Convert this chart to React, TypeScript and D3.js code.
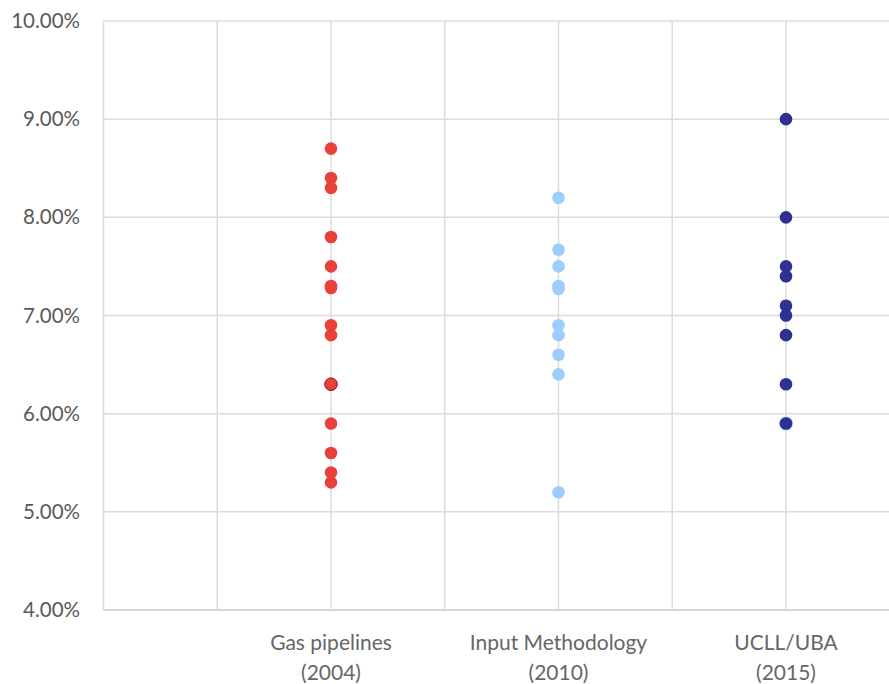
import React from "react";
import * as d3 from "d3";

const categories = ["Gas pipelines\n(2004)", "Input Methodology\n(2010)", "UCLL/UBA\n(2015)"];
const categoryX = [2, 4, 6];
const gasPipelines = [8.7, 8.4, 8.3, 7.8, 7.5, 7.3, 7.28, 6.9, 6.8, 6.3, 5.9, 5.6, 5.4, 5.3];
const inputMethodology = [8.2, 7.67, 7.5, 7.3, 7.27, 6.9, 6.8, 6.6, 6.4, 5.2];
const ucllUba = [9.0, 8.0, 7.5, 7.4, 7.1, 7.0, 6.8, 6.3, 5.9];
const yTicks = [4, 5, 6, 7, 8, 9, 10];
const xGrid = [0, 1, 2, 3, 4, 5, 6, 7];

const W = 889;
const H = 684;

export default function App() {
  const x = d3.scaleLinear().domain([0, 7]).range([103.5, 899.75]);
  const y = d3.scaleLinear().domain([4, 10]).range([610, 21]);
  const font = "Lato, 'Open Sans', sans-serif";
  const series = [
    { values: gasPipelines, cx: categoryX[0], fill: "#E8413A" },
    { values: inputMethodology, cx: categoryX[1], fill: "#9DCDFD" },
    { values: ucllUba, cx: categoryX[2], fill: "#2E3192" },
  ];
  return (
    <svg width={W} height={H} style={{ position: "absolute", left: 0, top: 0, background: "#fff" }}>
      {yTicks.map((t) => (
        <line key={"h" + t} x1={x(0)} x2={W} y1={y(t)} y2={y(t)} stroke={t === 4 ? "#c8c8c8" : "#dcdcdc"} strokeWidth={1.5} />
      ))}
      {xGrid.map((g) => (
        <line key={"v" + g} x1={x(g)} x2={x(g)} y1={y(10)} y2={y(4)} stroke="#dcdcdc" strokeWidth={1.5} />
      ))}
      {yTicks.map((t) => (
        <text key={"yl" + t} x={80} y={y(t) + 7} textAnchor="end" fontFamily={font} fontSize={20.5} fill="#595959">
          {t.toFixed(2) + "%"}
        </text>
      ))}
      {categories.map((c, i) => (
        <text key={"c" + i} x={x(categoryX[i])} textAnchor="middle" fontFamily={font} fontSize={21} fill="#666666">
          {c.split("\n").map((line, j) => (
            <tspan key={j} x={x(categoryX[i])} y={650 + j * 30}>
              {line}
            </tspan>
          ))}
        </text>
      ))}
      {/* light halo under UCLL 5.9 */}
      <circle cx={x(6)} cy={y(5.9)} r={7} fill="#9DCDFD" />
      {series.map((s, si) =>
        s.values.map((v, i) => (
          <circle
            key={si + "-" + i}
            cx={x(s.cx)}
            cy={y(v)}
            r={6.3}
            fill={s.fill}
            stroke={si === 0 && v === 6.3 ? "#7a1a14" : "none"}
            strokeWidth={1}
          />
        ))
      )}
    </svg>
  );
}
